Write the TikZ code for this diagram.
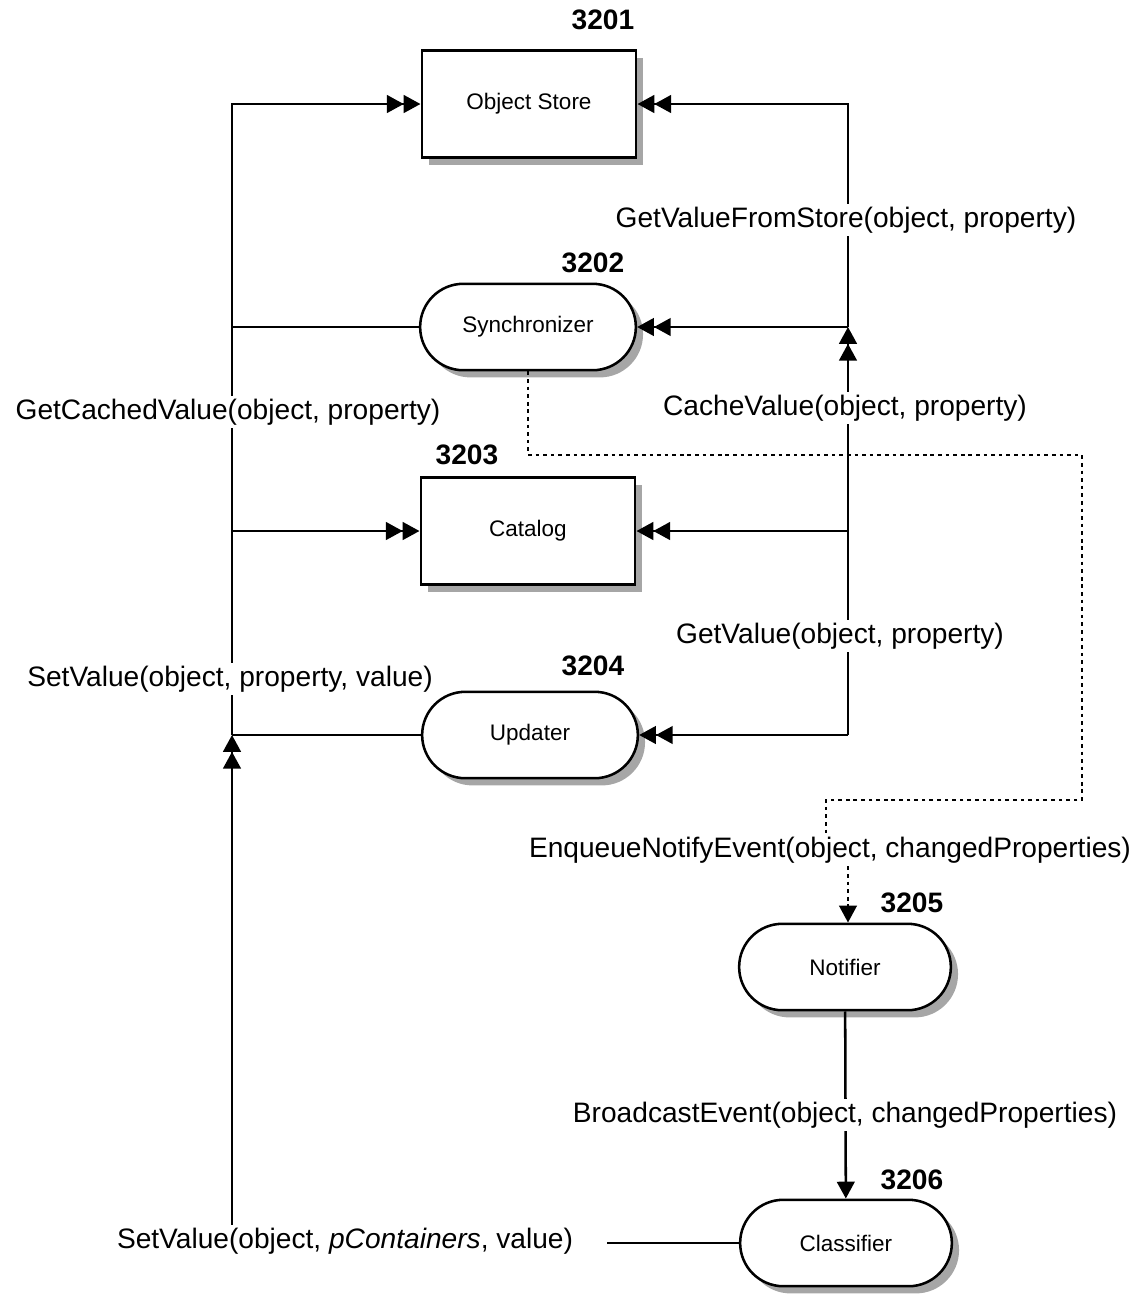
\documentclass[tikz,border=0pt]{standalone}
\usepackage{fontspec}
\setmainfont{Liberation Sans}
\usetikzlibrary{positioning,arrows.meta,shapes.misc,shadows}

\begin{document}
\begin{tikzpicture}[
    x=0.0125cm, y=-0.0125cm,
    boxshadow/.style={drop shadow={shadow xshift=0.9mm, shadow yshift=-0.9mm, fill=black!35, opacity=1}},
    box/.style={draw, line width=0.9pt, fill=white, minimum width=2.68cm, minimum height=1.34cm, font=\fontsize{8}{10}\selectfont, boxshadow},
    pill/.style={draw, line width=0.9pt, fill=white, rounded rectangle, minimum width=2.93cm, minimum height=1.08cm, font=\fontsize{8}{10}\selectfont, boxshadow},
    call/.style={fill=white, inner sep=1pt, font=\fontsize{10}{12}\selectfont},
    num/.style={font=\bfseries\fontsize{10}{12}\selectfont},
    wire/.style={line width=0.9pt},
    dbl/.style={wire, -{Triangle[length=2.1mm,width=2.2mm]Triangle[length=2.1mm,width=2.2mm]}},
    onearrow/.style={wire, -{Triangle[length=2.1mm,width=2.2mm]}},
    notify/.style={line width=0.7pt, dash pattern=on 1.3pt off 1.4pt}
]
\useasboundingbox (0,0) rectangle (1140,1294);

% Components
\node[box] (store) at (529,104) {Object Store};
\node[pill] (sync) at (528,327) {Synchronizer};
\node[box] (cat) at (528,531) {Catalog};
\node[pill] (upd) at (530,735) {Updater};
\node[pill, minimum width=2.88cm] (notif) at (845,967) {Notifier};
\node[pill, minimum width=2.88cm] (cls) at (846,1243) {Classifier};

% Reference numbers
\node[num] (n3201) at (603,20) {3201};
\node[num] (n3202) at (593,263) {3202};
\node[num] (n3203) at (467,455) {3203};
\node[num] (n3204) at (593,666) {3204};
\node[num] (n3205) at (912,903) {3205};
\node[num] (n3206) at (912,1180) {3206};

% Calls that end a connector
\node[call] (enq) at (830,850) {EnqueueNotifyEvent(object, changedProperties)};
\node[call, inner xsep=12pt] (setpc) at (345,1241) {SetValue(object, \textit{pContainers}, value)};

% Bus corners
\coordinate (lt) at (232,104);
\coordinate (ls) at (232,327);
\coordinate (lc) at (232,531);
\coordinate (lu) at (232,735);
\coordinate (rt) at (848,104);
\coordinate (rs) at (848,327);
\coordinate (rc) at (848,531);
\coordinate (ru) at (848,735);
\coordinate (d2) at (1082,455);
\coordinate (d4) at (826,800);

% Left bus
\draw[wire] (sync.west) -- (ls);
\draw[dbl] (ls) -- (lt) -- (store.west);
\draw[dbl] (ls) -- (lc) -- (cat.west);
\draw[wire] (lc) -- (lu);
\draw[wire] (upd.west) -- (lu);
\draw[dbl] (setpc.north -| lu) -- (lu);
\draw[wire] (cls.west) -- (setpc.east |- cls.west);

% Right bus
\draw[dbl] (rs) -- (rt) -- (store.east);
\draw[dbl] (rs) -- (sync.east);
\draw[dbl] (ru) -- (rs);
\draw[dbl] (rc) -- (cat.east);
\draw[dbl] (ru) -- (upd.east);

% Notification path
\draw[notify] (sync.south) |- (d2) |- (d4) -- (d4 |- enq.north);
\draw[notify, -{Triangle[length=2.1mm,width=2.2mm]}] (enq.south -| rs) -- (notif.north -| rs);
\draw[onearrow] (notif) -- (cls);

% Call labels
\node[call] (getstore) at (846,220) {GetValueFromStore(object, property)};
\node[call] (cacheval) at (845,408) {CacheValue(object, property)};
\node[call] (getcached) at (228,412) {GetCachedValue(object, property)};
\node[call] (getval) at (840,636) {GetValue(object, property)};
\node[call] (setval) at (230,679) {SetValue(object, property, value)};
\node[call] (bcast) at (845,1115) {BroadcastEvent(object, changedProperties)};
\end{tikzpicture}
\end{document}
